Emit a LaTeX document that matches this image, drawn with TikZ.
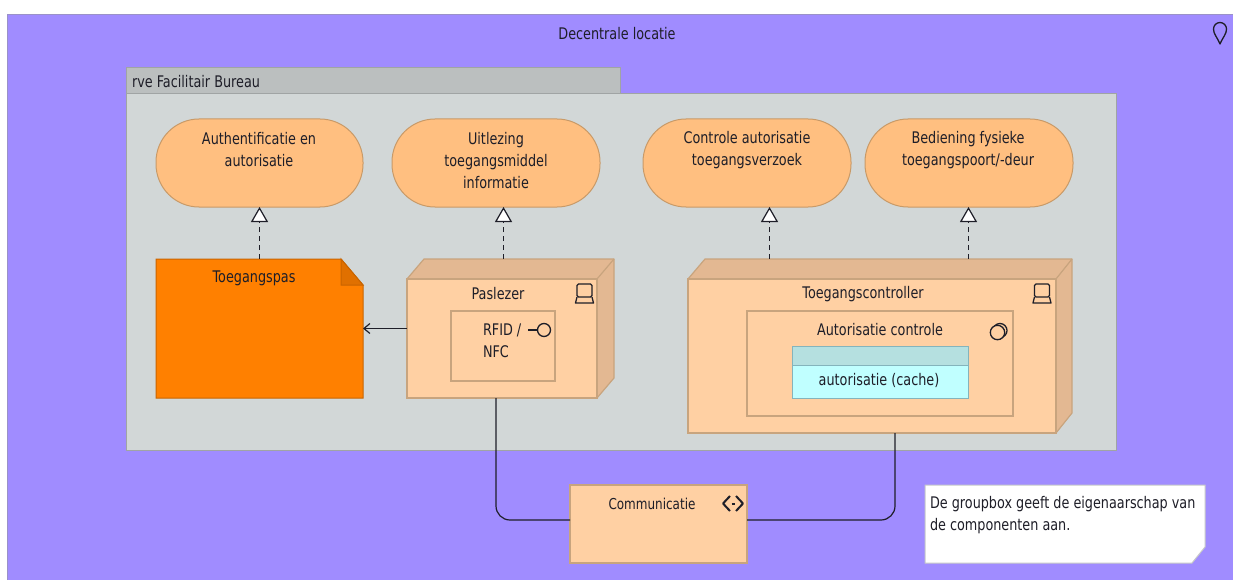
\documentclass[tikz,border=0pt]{standalone}
\usepackage{fontspec}
\setmainfont[FakeStretch=0.8]{DejaVu Sans}
\usetikzlibrary{arrows.meta,calc}
\definecolor{locfill}{HTML}{A08CFF}
\definecolor{locline}{HTML}{9A92C8}
\definecolor{grpfill}{HTML}{D2D7D7}
\definecolor{grptab}{HTML}{BBBFBF}
\definecolor{grpline}{HTML}{A0A4A4}
\definecolor{fnfill}{HTML}{FFBF80}
\definecolor{fnline}{HTML}{C89A68}
\definecolor{devfill}{HTML}{FFD0A3}
\definecolor{devdark}{HTML}{E3B892}
\definecolor{devline}{HTML}{C8A47E}
\definecolor{passfill}{HTML}{FF8000}
\definecolor{passdark}{HTML}{E07000}
\definecolor{passline}{HTML}{C86400}
\definecolor{datafill}{HTML}{C0FFFF}
\definecolor{datahead}{HTML}{B5E0E0}
\definecolor{dataline}{HTML}{84B4BC}
\definecolor{ink}{HTML}{1E1E28}
\tikzset{
  every node/.style={inner sep=0pt,outer sep=0pt},
  txt/.style={font=\fontsize{16}{22}\selectfont,text=ink,align=center,yshift=-1pt},
  txtl/.style={txt,align=left,anchor=west},
  locbox/.style={draw=locline,fill=locfill,line width=1pt},
  grpbox/.style={draw=grpline,fill=grpfill,line width=1pt},
  tabbox/.style={draw=grpline,fill=grptab,line width=1pt},
  fnbox/.style={draw=fnline,fill=fnfill,line width=1pt,rounded corners=43pt},
  devbox/.style={draw=devline,fill=devfill,line width=1.2pt},
  devside/.style={draw=devline,fill=devdark,line width=1.2pt,line join=round},
  passbox/.style={draw=passline,fill=passfill,line width=1pt},
  databox/.style={draw=dataline,fill=datafill,line width=1pt},
  notebox/.style={draw=none},
  conn/.style={draw=ink,line width=1.2pt},
  realize/.style={conn,dash pattern=on 5pt off 4pt,-{Triangle[open,fill=white,length=15pt,width=17pt,line width=1.2pt]}},
  assign/.style={conn,-{Straight Barb[length=6pt,width=10pt,line width=1.2pt]}},
  serve/.style={conn,rounded corners=14pt},
  icon/.style={draw=ink,line width=1.3pt,line join=round},
}
% \bx{style}{name}{x1}{y1}{x2}{y2}
\newcommand\bx[6]{%
  \pgfmathsetmacro\bxw{#5-(#3)}\pgfmathsetmacro\bxh{#6-(#4)}%
  \node[#1,minimum width=\bxw pt,minimum height=\bxh pt,anchor=north west] (#2) at (#3,#4) {};}
\newcommand\computer[2]{%
  \draw[icon,rounded corners=1.5pt] (#1-7.5,#2+4) -- (#1-7.5,#2-9) -- (#1+7.5,#2-9) -- (#1+7.5,#2+4) -- cycle;
  \draw[icon] (#1-7.5,#2+4) -- (#1-9,#2+10) -- (#1+9,#2+10) -- (#1+7.5,#2+4);}
\begin{document}
\begin{tikzpicture}[x=1pt,y=-1pt]
\useasboundingbox (0,0) rectangle (1233,580);
\clip (0,0) rectangle (1233,580);
\fill[white] (0,0) rectangle (1233,580);
\bx{locbox}{loc}{7.5}{15}{1245}{595}
\node[txt] (loctxt) at (617,33) {Decentrale locatie};
\draw[icon] (1220,44) .. controls (1217,37) and (1213.5,34) .. (1213.5,29) arc[start angle=180,end angle=360,radius=6.5] .. controls (1226.5,34) and (1223,37) .. (1220,44) -- cycle;

\bx{tabbox}{tab}{126.5}{68}{620}{94}
\bx{grpbox}{grp}{126.5}{94}{1116}{450}
\node[txtl] (tabtxt) at (132,81) {rve Facilitair Bureau};

\bx{fnbox}{fa}{156}{119}{363}{207}
\bx{fnbox}{fb}{392}{119}{600}{207}
\bx{fnbox}{fc}{643}{119}{851}{207}
\bx{fnbox}{fd}{865}{119}{1073}{207}
\node[txt] (fatxt) at (259,149) {Authentificatie en\\autorisatie};
\node[txt] (fbtxt) at (496,160) {Uitlezing\\toegangsmiddel\\informatie};
\node[txt] (fctxt) at (747,149) {Controle autorisatie\\toegangsverzoek};
\node[txt] (fdtxt) at (968,149) {Bediening fysieke\\toegangspoort/-deur};

% Toegangspas
\bx{passbox,draw=none,fill=none}{pass}{156}{259}{363}{398}
\draw[passbox] (pass.north west) -- (341,259) -- (363,285) -- (pass.south east) -- (pass.south west) -- cycle;
\draw[passbox,fill=passdark] (341,259) -- (363,285) -- (341,285) -- cycle;
\node[txt] (passtxt) at (254,277) {Toegangspas};

% Paslezer
\draw[devside] (407,279) -- (424,259) -- (614,259) -- (614,378) -- (597,398) -- (597,279) -- cycle;
\bx{devbox}{pl}{407}{279}{597}{398}
\draw[devside,fill=none] (597,279) -- (614,259);
\node[txt] (pltxt) at (498,293) {Paslezer};
\computer{584.5}{293}
\bx{devbox}{rfid}{451}{311}{555}{381}
\node[txtl] (rfidtxt) at (483,340) {RFID /\\NFC};
\draw[icon] (528,330) -- (537,330);
\draw[icon] (544,330) circle[radius=6.5];

% Toegangscontroller
\draw[devside] (688,279) -- (705,259) -- (1072,259) -- (1072,413) -- (1056,433) -- (1056,279) -- cycle;
\bx{devbox}{tc}{688}{279}{1056}{433}
\draw[devside,fill=none] (1056,279) -- (1072,259);
\node[txt] (tctxt) at (863,293) {Toegangscontroller};
\computer{1042}{293}
\bx{devbox}{ac}{747}{311}{1013}{416}
\node[txt] (actxt) at (880,329) {Autorisatie controle};
\draw[icon] (1000,330.5) circle[radius=7];
\draw[icon,fill=devfill] (997.5,332.5) circle[radius=7.2];
\bx{databox}{data}{792}{346}{968}{398}
\bx{databox,fill=datahead}{datah}{792}{346}{968}{365}
\node[txt] (datatxt) at (879,379) {autorisatie (cache)};

% Communicatie
\bx{devbox,draw=devline}{comm}{570}{485}{747}{563}
\node[txt,font=\fontsize{15}{22}\selectfont] (commtxt) at (652,503) {Communicatie};
\draw[icon,line width=2pt] (730,496) -- (723,503.5) -- (730,511);
\draw[icon,line width=2pt] (736,496) -- (743,503.5) -- (736,511);
\draw[icon,line width=2pt] (731.5,503.5) -- (734.5,503.5);

% Note
\bx{notebox}{note}{925}{485}{1205}{563}
\draw[draw=grpline!60,fill=white,line width=1pt] (note.north west) -- (note.north east) -- (1205,547) -- (1192,563) -- (note.south west) -- cycle;
\node[txtl] (notetxt) at (930,514) {De groupbox geeft de eigenaarschap van\\de componenten aan.};

% Connectors
\draw[realize] (pass.north) -- (pass.north |- fa.south);
\draw[realize] ([xshift=1.5pt,yshift=20pt]pl.north) -- ([xshift=1.5pt]pl.north |- fb.south);
\draw[realize] ([xshift=-102.5pt,yshift=20pt]tc.north) -- ([xshift=-102.5pt]tc.north |- fc.south);
\draw[realize] ([xshift=96.5pt,yshift=20pt]tc.north) -- ([xshift=96.5pt]tc.north |- fd.south);
\draw[assign] (pl.west |- pass.east) -- (pass.east);
\draw[serve] ([xshift=-6pt]pl.south) |- ([yshift=4pt]comm.west);
\draw[serve] ([xshift=23pt]tc.south) |- ([yshift=4pt]comm.east);
\end{tikzpicture}
\end{document}
